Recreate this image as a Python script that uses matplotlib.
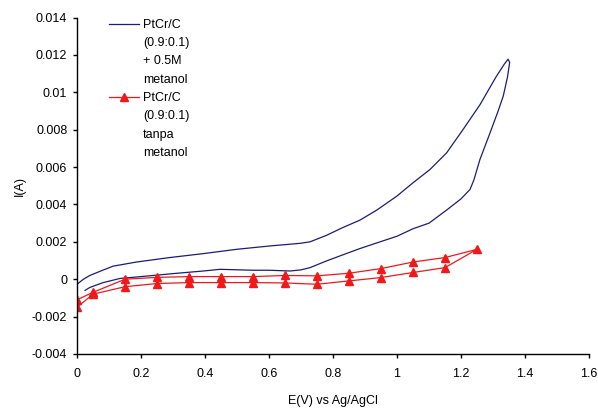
import matplotlib
matplotlib.use("Agg")
import matplotlib.pyplot as plt
import matplotlib.transforms as mtransforms
from matplotlib.legend_handler import HandlerLine2D

plt.rcParams['font.family'] = ['Liberation Sans', 'DejaVu Sans']

# PtCr/C (0.9:0.1) + 0.5M metanol : forward scan then return scan
E_meoh = [0.00, 0.02, 0.04, 0.08, 0.113, 0.186, 0.29, 0.395, 0.499, 0.603, 0.697, 0.728,
          0.78, 0.83, 0.884, 0.937, 0.999, 1.05, 1.103, 1.155, 1.206, 1.259, 1.31, 1.335, 1.347,
          1.352, 1.345, 1.332, 1.316, 1.29, 1.259, 1.24, 1.228, 1.20, 1.155, 1.10, 1.05, 1.0,
          0.947, 0.884, 0.83, 0.78, 0.728, 0.70, 0.666, 0.60, 0.55, 0.447, 0.395, 0.30, 0.238,
          0.134, 0.082, 0.04, 0.025]
I_meoh = [-0.00027, 0.0000, 0.0002, 0.00048, 0.0007, 0.00092, 0.00116, 0.00137, 0.0016, 0.00178,
          0.00192, 0.0020, 0.00235, 0.00276, 0.00316, 0.0037, 0.00444, 0.00516, 0.00587, 0.00676,
          0.0080, 0.00933, 0.01084, 0.0115, 0.01177,
          0.0116, 0.0108, 0.0098, 0.0090, 0.0078, 0.0064, 0.0053, 0.0048, 0.0043, 0.0037,
          0.0030, 0.0027, 0.0023, 0.0020, 0.00164, 0.0013, 0.00098, 0.00062, 0.0005, 0.00044,
          0.00048, 0.00048, 0.00053, 0.00044, 0.0003, 0.0002, 0.00004, -0.00018, -0.00044, -0.0006]

# PtCr/C (0.9:0.1) tanpa metanol
E_blank = [0, 0.05, 0.15, 0.25, 0.35, 0.45, 0.55, 0.65, 0.75, 0.85, 0.95, 1.05, 1.15, 1.25,
           1.15, 1.05, 0.95, 0.85, 0.75, 0.65, 0.55, 0.45, 0.35, 0.25, 0.15, 0.05, 0]
I_blank = [-0.0011, -0.0007, 0.0000, 0.0001, 0.00014, 0.00014, 0.00014, 0.0002, 0.00018,
           0.00032, 0.00057, 0.00092, 0.00116, 0.0016,
           0.00062, 0.00036, 0.00009, -0.00009, -0.00027, -0.0002, -0.00018, -0.00018,
           -0.00018, -0.00023, -0.0004, -0.0008, -0.0015]

label_meoh = "PtCr/C\n(0.9:0.1)\n+ 0.5M\nmetanol"
label_blank = "PtCr/C\n(0.9:0.1)\ntanpa\nmetanol"

x_ticks = [0, 0.2, 0.4, 0.6, 0.8, 1, 1.2, 1.4, 1.6]
x_ticklabels = ["0", "0.2", "0.4", "0.6", "0.8", "1", "1.2", "1.4", "1.6"]
y_ticks = [-0.004, -0.002, 0, 0.002, 0.004, 0.006, 0.008, 0.01, 0.012, 0.014]
y_ticklabels = ["-0.004", "-0.002", "0", "0.002", "0.004", "0.006", "0.008", "0.01", "0.012", "0.014"]


class TopHandler(HandlerLine2D):
    # put the legend key next to the first text line (Excel style)
    def create_artists(self, legend, orig_handle, xdescent, ydescent, width, height, fontsize, trans):
        arts = super().create_artists(legend, orig_handle, xdescent, ydescent, width, height, fontsize, trans)
        shift = mtransforms.Affine2D().translate(0, 20.5) + trans
        for a in arts:
            a.set_transform(shift)
        return arts


fig = plt.figure(figsize=(5.98, 4.11), dpi=100)
ax = fig.add_axes([0.1288, 0.1387, 0.8562, 0.8187])

ax.plot(E_meoh, I_meoh, color='#1c1c78', lw=0.9, label=label_meoh)
ax.plot(E_blank, I_blank, color='#f01818', lw=0.9, marker='^', ms=6,
        mec='#f01818', mfc='#f01818', label=label_blank)

ax.set_xlim(0, 1.6)
ax.set_ylim(-0.004, 0.014)
ax.set_xticks(x_ticks)
ax.set_xticklabels(x_ticklabels)
ax.set_yticks(y_ticks)
ax.set_yticklabels(y_ticklabels)
ax.tick_params(direction='out', length=3, width=1, labelsize=9)
ax.tick_params(axis='x', pad=7)
ax.tick_params(axis='y', pad=4)
ax.spines['top'].set_visible(False)
ax.spines['right'].set_visible(False)
for s in ['left', 'bottom']:
    ax.spines[s].set_linewidth(1)

ax.set_xlabel('E(V) vs Ag/AgCl', fontsize=9, labelpad=11)
ax.set_ylabel('I(A)', fontsize=9, labelpad=4)

h, l = ax.get_legend_handles_labels()
leg = ax.legend(h, l, loc='upper left', bbox_to_anchor=(0.062, 0.995), frameon=False,
                fontsize=9, handlelength=2.4, handletextpad=0.35, labelspacing=0.54,
                borderpad=0, borderaxespad=0,
                handler_map={h[0]: TopHandler(), h[1]: TopHandler()})
for t in leg.get_texts():
    t.set_linespacing(1.68)

fig.savefig('out.png', dpi=100)
